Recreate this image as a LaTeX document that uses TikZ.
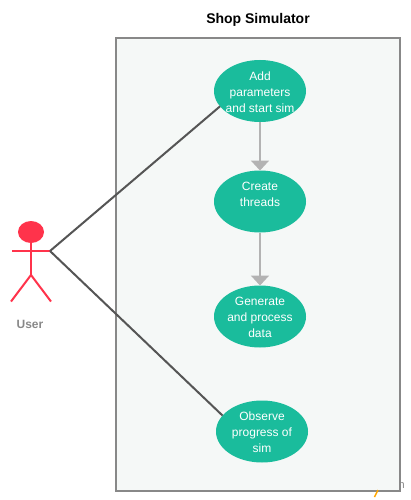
\documentclass[tikz,border=0pt]{standalone}
\usepackage{fontspec}
\setmainfont{Liberation Sans}
\usetikzlibrary{arrows.meta,shapes.geometric}
\definecolor{usecasegreen}{HTML}{1ABC9C}
\definecolor{actorred}{HTML}{FF334B}
\definecolor{boxgray}{HTML}{888888}
\definecolor{boxfill}{HTML}{F5F8F7}
\definecolor{flowgray}{HTML}{B3B3B3}
\definecolor{linkgray}{HTML}{555555}
\tikzset{
    usecase/.style={ellipse,fill=usecasegreen,inner sep=0pt,outer sep=0pt,
        minimum width=92pt,minimum height=62pt},
    usetext/.style={text=white,align=center,yshift=-1pt,font=\fontsize{12}{16}\selectfont},
    flow/.style={-{Triangle[length=10pt,width=18pt]},draw=flowgray,line width=2pt},
    link/.style={draw=linkgray,line width=2pt},
    limb/.style={draw=actorred,line width=2pt}
}
\begin{document}
\begin{tikzpicture}[x=1pt,y=-1pt]
    \useasboundingbox (0,0) rectangle (410,500);
    \draw[boxgray,line width=2pt,fill=boxfill] (116,38) rectangle (400,491);
    \node[font=\fontsize{14}{16}\selectfont\bfseries] (title) at (258,19.5) {Shop Simulator};

    \draw[orange!70!yellow,line width=1.5pt] (378,490) -- (374.5,497);
    \node[text=boxgray,font=\fontsize{11}{12}\selectfont,anchor=west,inner sep=0pt] (clipped) at (398.5,486) {n};

    \node[usecase,label={[usetext]center:Add\\parameters\\and start sim}] (addsim) at (260,91) {};
    \node[usecase,label={[usetext]center:Create\\threads\\\mbox{}}] (threads) at (260,201.5) {};
    \node[usecase,label={[usetext]center:Generate\\and process\\data}] (process) at (260,316.5) {};
    \node[usecase,label={[usetext]center:Observe\\progress of\\sim}] (observe) at (262,431.5) {};

    \draw[flow] (addsim) -- (threads);
    \draw[flow] (threads) -- (process);

    % actor
    \node[ellipse,fill=actorred,inner sep=0pt,minimum width=26pt,minimum height=22pt] (head) at (31,232) {};
    \coordinate (hip) at (31,275);
    \coordinate (handl) at (12,251);
    \coordinate (handr) at (50,251);
    \draw[limb] (head) -- (hip);
    \draw[limb] (handl) -- (handr);
    \draw[limb] (11,301.5) -- (hip) -- (51,301.5);
    \node[text=boxgray,font=\fontsize{12}{14}\selectfont\bfseries] (user) at (30,324) {User};

    \draw[link] (handr) -- (addsim.201);
    \draw[link] (handr) -- (observe.158);
\end{tikzpicture}
\end{document}
